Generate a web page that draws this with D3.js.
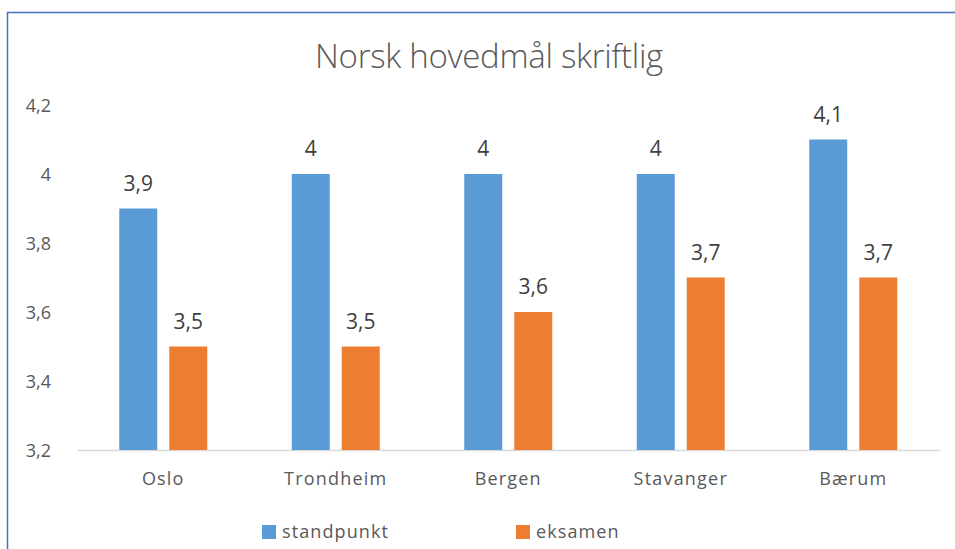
<!DOCTYPE html>
<html><head><meta charset="utf-8">
<script src="https://cdn.jsdelivr.net/npm/d3@7"></script>
<style>body{margin:0;background:#fff;} svg{display:block;}</style>
</head><body>
<svg id="c" width="955" height="549"></svg>
<script>
const categories = ["Oslo","Trondheim","Bergen","Stavanger","Bærum"];
const standpunkt = [3.9, 4.0, 4.0, 4.0, 4.1];
const eksamen = [3.5, 3.5, 3.6, 3.7, 3.7];
const seriesNames = ["standpunkt","eksamen"];
const yTicks = [3.2, 3.4, 3.6, 3.8, 4.0, 4.2];
const colors = ["#5b9bd5", "#ed7d31"];

const svg = d3.select("#c");
const fmt = v => String(+v.toFixed(1)).replace(".", ",");
const FF = "Open Sans, sans-serif";

// outer border
svg.append("path").attr("d","M7.5,560 V12.5 H960").attr("fill","none").attr("stroke","#4472c4").attr("stroke-width",1.5);

const x0 = d3.scaleBand().domain(categories).range([77, 939.5]).paddingInner(0).paddingOuter(0);
const y = d3.scaleLinear().domain([3.2, 4.2]).range([450, 105]);
const barW = 38, gap = 12;

svg.append("text").attr("x", 489).attr("y", 68).attr("text-anchor","middle")
  .attr("font-family",FF).attr("font-weight",300).attr("font-size",33)
  .attr("letter-spacing","-0.3").attr("fill","#595959").text("Norsk hovedmål skriftlig");

// y axis labels
const yAxis = d3.axisLeft(y).tickValues(yTicks).tickSize(0).tickFormat(fmt);
const ya = svg.append("g").attr("transform","translate(54,0)").call(yAxis);
ya.select(".domain").remove();
ya.selectAll("text").attr("font-family",FF).attr("font-size",18).attr("fill","#595959").attr("dx",0).attr("dy","0.38em");

// x axis
const xAxis = d3.axisBottom(x0).tickSize(0).tickPadding(22);
const xa = svg.append("g").attr("transform","translate(0,450)").call(xAxis);
xa.select(".domain").attr("stroke","#d9d9d9").attr("stroke-width",1.5);
xa.selectAll("text").attr("font-family",FF).attr("font-size",18).attr("letter-spacing","1.2").attr("fill","#595959");

const series = [standpunkt, eksamen];
series.forEach((vals, si) => {
  const g = svg.append("g");
  const off = si === 0 ? -(gap/2 + barW) : gap/2;
  g.selectAll("rect").data(categories).join("rect")
    .attr("x", (c) => x0(c) + x0.bandwidth()/2 + off)
    .attr("y", (c,i) => y(vals[i]))
    .attr("width", barW)
    .attr("height", (c,i) => y(3.2) - y(vals[i]))
    .attr("fill", colors[si]);
  g.selectAll("text").data(categories).join("text")
    .attr("x", (c) => x0(c) + x0.bandwidth()/2 + off + barW/2)
    .attr("y", (c,i) => y(vals[i]) - 18)
    .attr("text-anchor","middle")
    .attr("font-family",FF).attr("font-size",21)
    .attr("fill","#404040").text((c,i) => fmt(vals[i]));
});

// legend
const legX = [262, 516];
seriesNames.forEach((n, i) => {
  svg.append("rect").attr("x", legX[i]).attr("y", 525).attr("width", 14).attr("height", 14).attr("fill", colors[i]);
  svg.append("text").attr("x", legX[i] + 20).attr("y", 538)
    .attr("font-family",FF).attr("font-size",18).attr("letter-spacing","1.1").attr("fill","#595959").text(n);
});
</script>
</body></html>
